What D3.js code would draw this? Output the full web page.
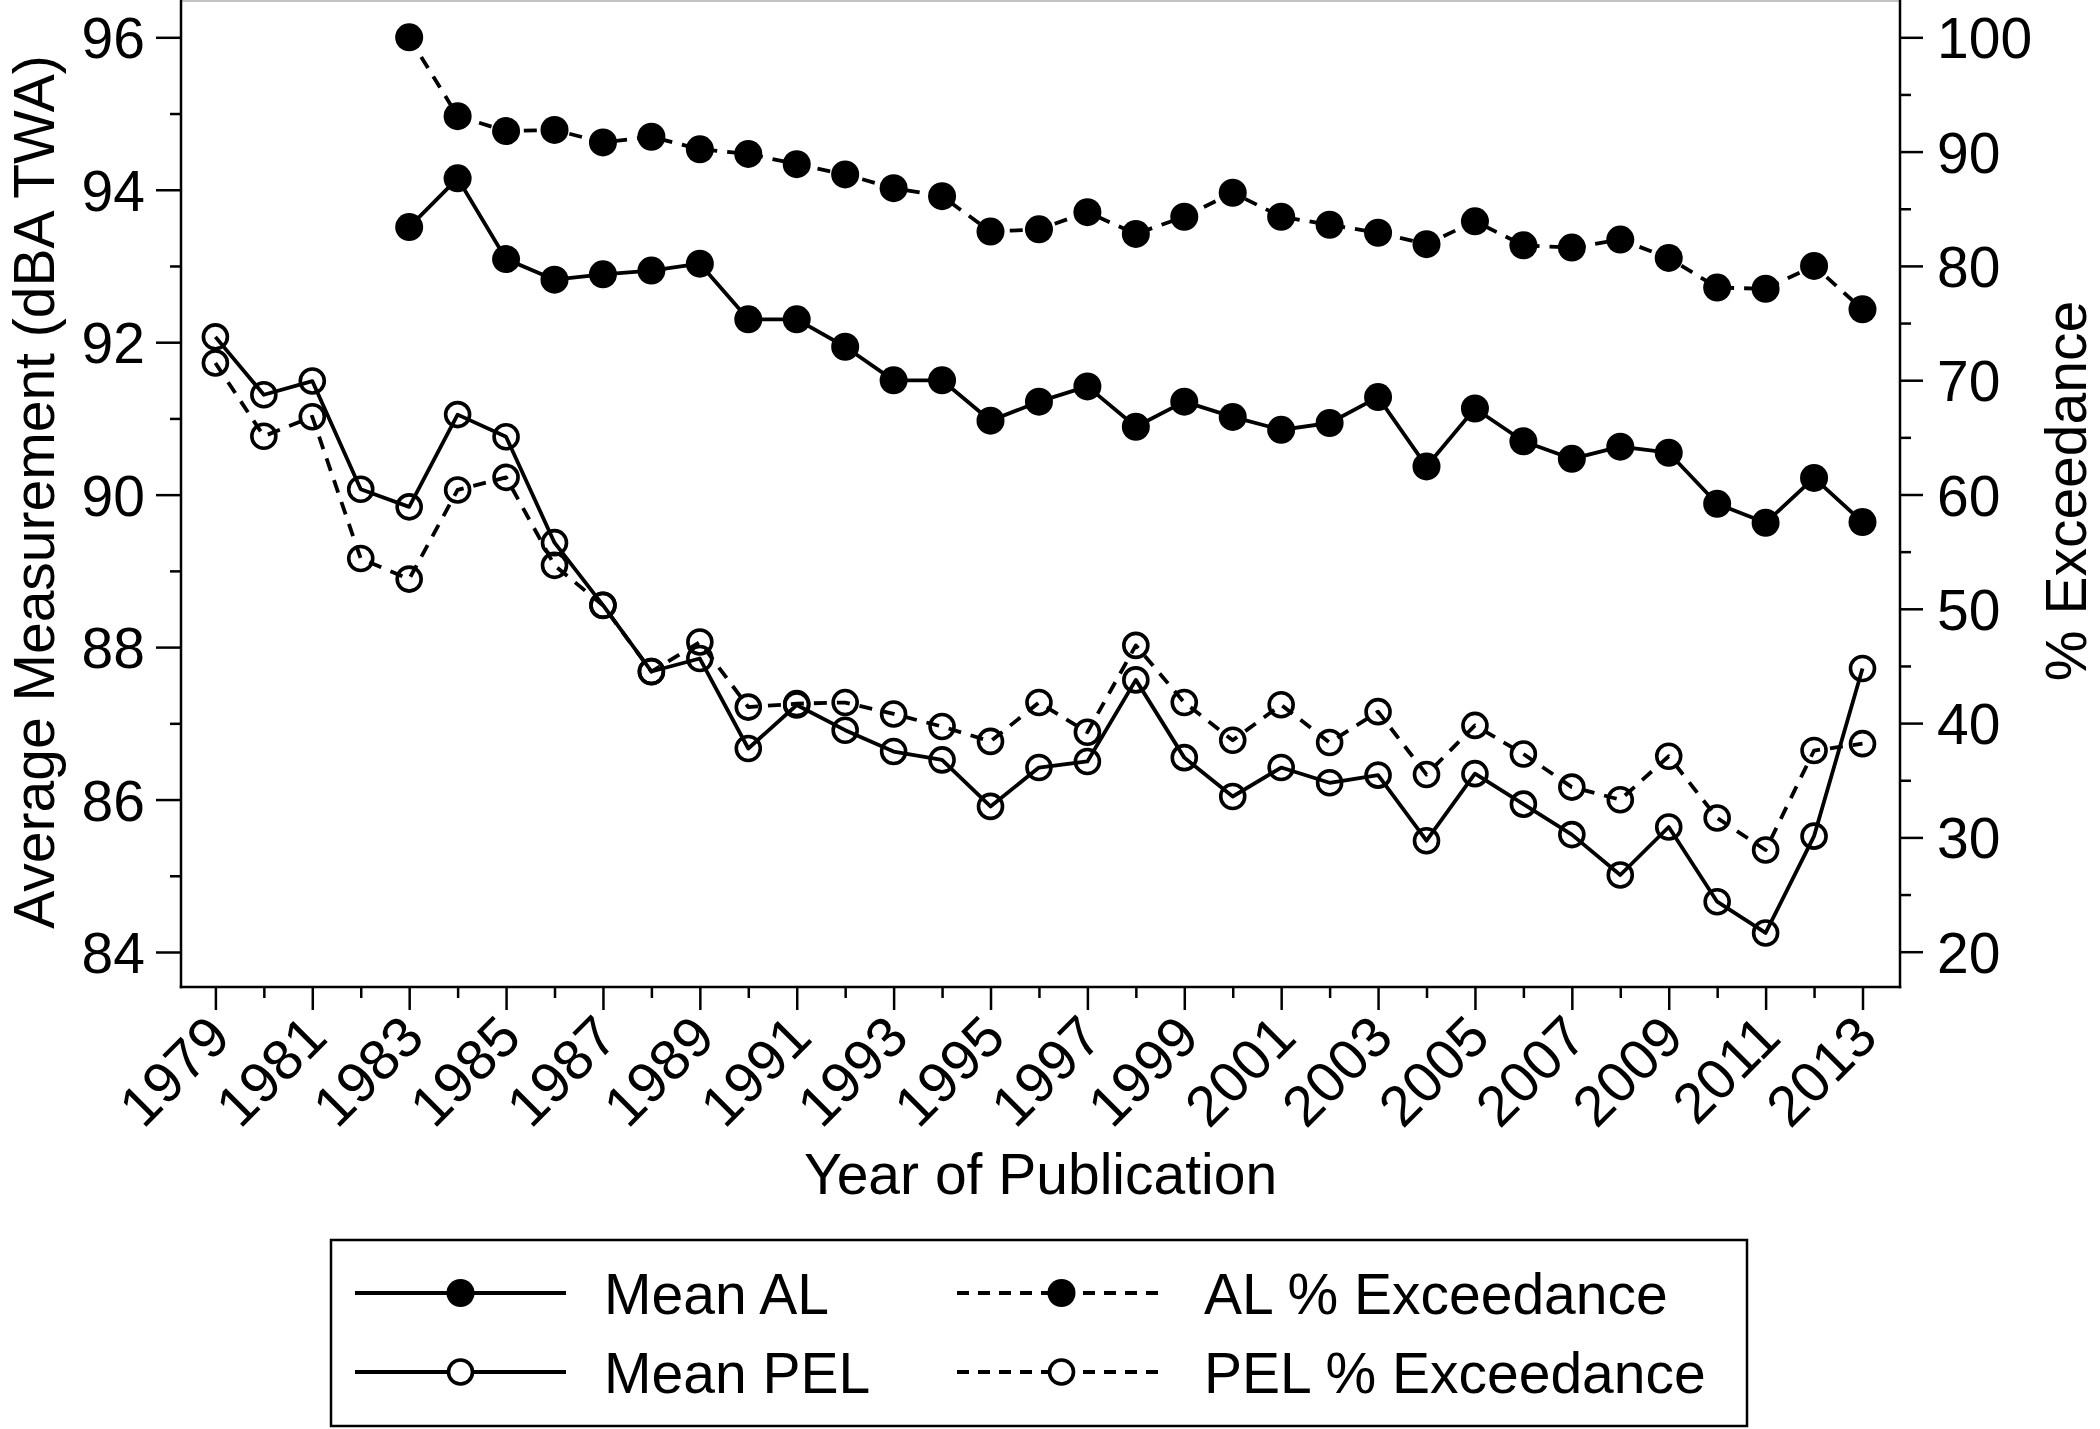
<!DOCTYPE html>
<html>
<head>
<meta charset="utf-8">
<script src="https://cdn.jsdelivr.net/npm/d3@7"></script>
<style>
html, body { margin: 0; padding: 0; background: #fff; }
svg { display: block; }
text { font-family: "Liberation Sans", Arial, sans-serif; fill: #000; }
</style>
</head>
<body>
<svg id="chart" width="2100" height="1429"></svg>
<script>
// ---------------- DATA ----------------
const years = [1979, 1980, 1981, 1982, 1983, 1984, 1985, 1986, 1987, 1988,
               1989, 1990, 1991, 1992, 1993, 1994, 1995, 1996, 1997, 1998,
               1999, 2000, 2001, 2002, 2003, 2004, 2005, 2006, 2007, 2008,
               2009, 2010, 2011, 2012, 2013];

// Mean AL (dBA TWA), left axis – solid line, filled circles
const meanAL = [null, null, null, null, 93.51, 94.15, 93.09, 92.82, 92.89, 92.94,
                93.03, 92.30, 92.30, 91.94, 91.50, 91.50, 90.97, 91.22, 91.42, 90.89,
                91.22, 91.02, 90.85, 90.94, 91.28, 90.37, 91.13, 90.70, 90.47, 90.63,
                90.55, 89.88, 89.63, 90.22, 89.64];

// Mean PEL (dBA TWA), left axis – solid line, hollow circles
const meanPEL = [92.07, 91.31, 91.49, 90.07, 89.84, 91.05, 90.76, 89.37, 88.55, 87.68,
                 87.85, 86.67, 87.24, 86.91, 86.63, 86.52, 85.91, 86.42, 86.50, 87.57,
                 86.55, 86.04, 86.42, 86.22, 86.32, 85.46, 86.34, 85.94, 85.54, 85.01,
                 85.64, 84.66, 84.25, 85.52, 87.72];

// AL % Exceedance, right axis – dashed line, filled circles
const alExceed = [null, null, null, null, 100.0, 93.1, 91.8, 91.9, 90.8, 91.3,
                  90.2, 89.8, 88.9, 88.0, 86.8, 86.1, 83.0, 83.2, 84.7, 82.8,
                  84.3, 86.4, 84.3, 83.6, 82.9, 81.9, 83.9, 81.8, 81.6, 82.3,
                  80.7, 78.1, 78.0, 80.0, 76.2];

// PEL % Exceedance, right axis – dashed line, hollow circles
const pelExceed = [71.5, 65.1, 66.8, 54.4, 52.6, 60.4, 61.5, 53.8, 50.3, 44.5,
                   47.1, 41.4, 41.7, 41.8, 40.8, 39.7, 38.4, 41.8, 39.2, 46.8,
                   41.8, 38.5, 41.6, 38.3, 41.0, 35.5, 39.8, 37.3, 34.4, 33.3,
                   37.1, 31.7, 28.9, 37.6, 38.2];

const leftTicks = [84, 86, 88, 90, 92, 94, 96];
const leftMinorTicks = [85, 87, 89, 91, 93, 95];
const rightTicks = [20, 30, 40, 50, 60, 70, 80, 90, 100];
const rightMinorTicks = [25, 35, 45, 55, 65, 75, 85, 95];
const xLabelYears = [1979, 1981, 1983, 1985, 1987, 1989, 1991, 1993, 1995, 1997,
                     1999, 2001, 2003, 2005, 2007, 2009, 2011, 2013];
const xMinorYears = [1980, 1982, 1984, 1986, 1988, 1990, 1992, 1994, 1996, 1998,
                     2000, 2002, 2004, 2006, 2008, 2010, 2012];

const leftTitle = "Average Measurement (dBA TWA)";
const rightTitle = "% Exceedance";
const xTitle = "Year of Publication";
const seriesNames = ["Mean AL", "Mean PEL", "AL % Exceedance", "PEL % Exceedance"];

// ---------------- LAYOUT ----------------
const plotLeft = 181, plotRight = 1900, plotTop = 1, plotBottom = 987;
const FS = 57;

const svg = d3.select("#chart");
svg.append("rect").attr("width", 2100).attr("height", 1429).attr("fill", "#fff");

const x = d3.scaleLinear().domain([1979, 2013]).range([215.4, 1862.5]);
const yL = d3.scaleLinear().domain([84, 96]).range([952, 37.3]);
const yR = d3.scaleLinear().domain([20, 100]).range([951.7, 37.3]);

// top border (faint)
svg.append("line")
  .attr("x1", plotLeft).attr("x2", plotRight)
  .attr("y1", 1).attr("y2", 1)
  .attr("stroke", "#c4c4c4").attr("stroke-width", 2);

function styleAxis(g) {
  g.select(".domain").remove();
  g.selectAll(".tick line").attr("stroke", "#000").attr("stroke-width", 2.5);
  g.selectAll(".tick text").attr("font-size", FS)
    .attr("font-family", '"Liberation Sans", Arial, sans-serif').attr("fill", "#000");
}

// Left axis
const gLeft = svg.append("g").attr("transform", `translate(${plotLeft},0)`)
  .call(d3.axisLeft(yL).tickValues(leftTicks).tickSize(25).tickPadding(11)
        .tickFormat(d3.format("d")));
styleAxis(gLeft);
gLeft.selectAll(".tick text").attr("dy", "0.36em");
const gLeftMinor = svg.append("g").attr("transform", `translate(${plotLeft},0)`)
  .call(d3.axisLeft(yL).tickValues(leftMinorTicks).tickSize(11).tickFormat(""));
styleAxis(gLeftMinor);

// Right axis
const gRight = svg.append("g").attr("transform", `translate(${plotRight},0)`)
  .call(d3.axisRight(yR).tickValues(rightTicks).tickSize(23).tickPadding(14)
        .tickFormat(d3.format("d")));
styleAxis(gRight);
gRight.selectAll(".tick text").attr("dy", "0.36em");
const gRightMinor = svg.append("g").attr("transform", `translate(${plotRight},0)`)
  .call(d3.axisRight(yR).tickValues(rightMinorTicks).tickSize(11).tickFormat(""));
styleAxis(gRightMinor);

// Bottom axis
const gBottom = svg.append("g").attr("transform", `translate(0,${plotBottom})`)
  .call(d3.axisBottom(x).tickValues(xLabelYears).tickSize(23).tickFormat(d3.format("d")));
styleAxis(gBottom);
gBottom.selectAll(".tick text")
  .attr("x", 0).attr("y", 0).attr("dy", 0)
  .attr("text-anchor", "end")
  .attr("transform", "translate(17,53) rotate(-45)");
const gBottomMinor = svg.append("g").attr("transform", `translate(0,${plotBottom})`)
  .call(d3.axisBottom(x).tickValues(xMinorYears).tickSize(11).tickFormat(""));
styleAxis(gBottomMinor);

// Axis lines
const axisLines = svg.append("g").attr("stroke", "#000").attr("stroke-width", 2.5);
axisLines.append("line").attr("x1", plotLeft).attr("x2", plotLeft)
  .attr("y1", plotTop - 1).attr("y2", plotBottom + 1.25);
axisLines.append("line").attr("x1", plotRight).attr("x2", plotRight)
  .attr("y1", plotTop - 1).attr("y2", plotBottom + 1.25);
axisLines.append("line").attr("x1", plotLeft - 1.25).attr("x2", plotRight + 1.25)
  .attr("y1", plotBottom).attr("y2", plotBottom);

// Axis titles
svg.append("text").attr("transform", "translate(54,492) rotate(-90)")
  .attr("text-anchor", "middle").attr("font-size", FS).text(leftTitle);
svg.append("text").attr("transform", "translate(2086,491) rotate(-90)")
  .attr("text-anchor", "middle").attr("font-size", FS).text(rightTitle);
svg.append("text").attr("x", (plotLeft + plotRight) / 2).attr("y", 1194)
  .attr("text-anchor", "middle").attr("font-size", FS).text(xTitle);

// ---------------- SERIES ----------------
const series = [
  { name: seriesNames[0], values: meanAL, y: yL, dash: null, filled: true },
  { name: seriesNames[1], values: meanPEL, y: yL, dash: null, filled: false },
  { name: seriesNames[2], values: alExceed, y: yR, dash: "13,10", filled: true },
  { name: seriesNames[3], values: pelExceed, y: yR, dash: "13,10", filled: false }
];

const plotG = svg.append("g");
series.forEach(s => {
  const pts = years.map((yr, i) => ({ yr, v: s.values[i] })).filter(d => d.v != null);
  const line = d3.line().x(d => x(d.yr)).y(d => s.y(d.v));
  plotG.append("path").datum(pts)
    .attr("d", line)
    .attr("fill", "none").attr("stroke", "#000").attr("stroke-width", 3.8)
    .attr("stroke-linejoin", "round")
    .attr("stroke-dasharray", s.dash);
  plotG.selectAll(null).data(pts).enter().append("circle")
    .attr("cx", d => x(d.yr)).attr("cy", d => s.y(d.v))
    .attr("r", s.filled ? 14 : 12)
    .attr("fill", s.filled ? "#000" : "none")
    .attr("stroke", "#000").attr("stroke-width", s.filled ? 0 : 3.6);
});

// ---------------- LEGEND ----------------
const lg = svg.append("g");
lg.append("rect").attr("x", 331).attr("y", 1240).attr("width", 1416).attr("height", 186)
  .attr("fill", "none").attr("stroke", "#000").attr("stroke-width", 2.5);
const legendPos = [
  { s: series[0], x0: 355, x1: 566, tx: 604, cy: 1293 },
  { s: series[1], x0: 355, x1: 566, tx: 604, cy: 1372 },
  { s: series[2], x0: 957, x1: 1166, tx: 1204, cy: 1293 },
  { s: series[3], x0: 957, x1: 1166, tx: 1204, cy: 1372 }
];
legendPos.forEach(p => {
  lg.append("line").attr("x1", p.x0).attr("x2", p.x1).attr("y1", p.cy).attr("y2", p.cy)
    .attr("stroke", "#000").attr("stroke-width", 4)
    .attr("stroke-dasharray", p.s.dash ? "12,9" : null);
  lg.append("circle").attr("cx", (p.x0 + p.x1) / 2).attr("cy", p.cy)
    .attr("r", p.s.filled ? 14 : 12)
    .attr("fill", p.s.filled ? "#000" : "#fff")
    .attr("stroke", "#000").attr("stroke-width", p.s.filled ? 0 : 3.6);
  lg.append("text").attr("x", p.tx).attr("y", p.cy + 20.5)
    .attr("font-size", FS).text(p.s.name);
});
</script>
</body>
</html>
